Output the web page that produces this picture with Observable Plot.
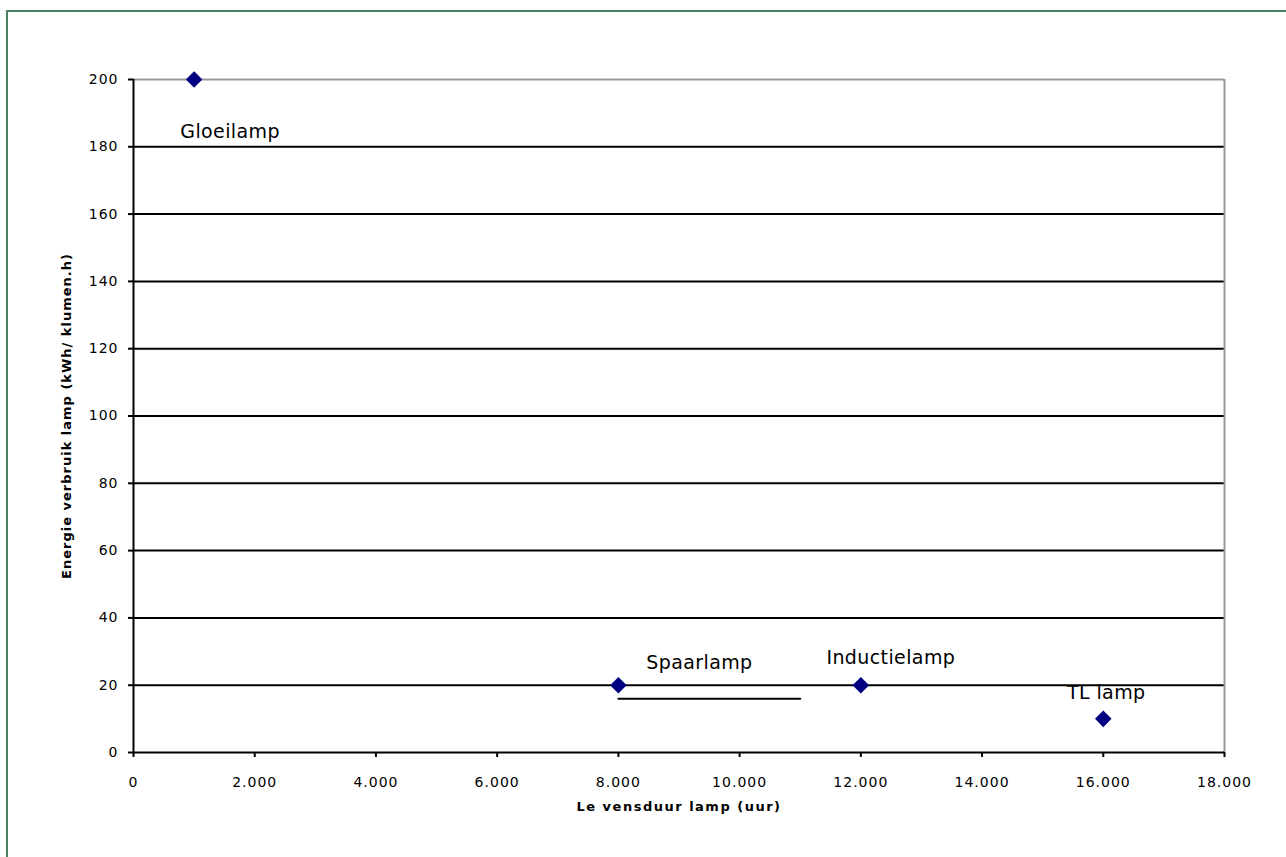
<!DOCTYPE html>
<html>
<head>
<meta charset="utf-8">
<script src="https://cdn.jsdelivr.net/npm/d3@7"></script>
<script src="https://cdn.jsdelivr.net/npm/@observablehq/plot@0.6"></script>
<style>
  html, body { margin: 0; padding: 0; background: #fff; }
  #wrap { position: relative; width: 1286px; height: 857px; overflow: hidden; }
  #frame { position: absolute; left: 6px; top: 10px; right: -10px; bottom: -10px;
           border-left: 2px solid #4b8063; border-top: 2px solid #4b8063; pointer-events: none; }
  svg { display: block; }
</style>
</head>
<body>
<div id="wrap"><div id="frame"></div></div>
<script>
// Data
const lamps = ["Gloeilamp", "Spaarlamp", "Inductielamp", "TL lamp"];
const lifetimeHours = [1000, 8000, 12000, 16000];
const energyUse = [200, 20, 20, 10];
const yTicks = [0, 20, 40, 60, 80, 100, 120, 140, 160, 180, 200];
const xTicks = [0, 2000, 4000, 6000, 8000, 10000, 12000, 14000, 16000, 18000];
const underlineX = [8000, 11000];
const underlineY = [16, 16];
const xTitle = "Le vensduur lamp (uur)";
const yTitle = "Energie verbruik lamp (kWh/ klumen.h)";

const points = lamps.map((name, i) => ({name, x: lifetimeHours[i], y: energyUse[i]}));
const underline = underlineX.map((x, i) => ({x, y: underlineY[i]}));

// label offsets (styling, in pixels)
const labelOffset = {
  "Gloeilamp": [36, 52],
  "Spaarlamp": [81, -22],
  "Inductielamp": [30, -27],
  "TL lamp": [3, -26]
};

const nl = d3.formatLocale({decimal: ",", thousands: ".", grouping: [3], currency: ["€", ""]});
const fmt = nl.format(",");

const font = "DejaVu Sans, sans-serif";

const marks = [
  Plot.ruleY(yTicks.filter(v => v > 0 && v < 200), {stroke: "#000", strokeWidth: 2}),
  Plot.ruleY([200], {stroke: "#999", strokeWidth: 2}),
  Plot.ruleX([18000], {stroke: "#999", strokeWidth: 2}),
  Plot.axisY({ticks: yTicks, tickSize: 5, tickPadding: 10, tickFormat: fmt, label: null,
    stroke: "#000", strokeWidth: 2, fontSize: 14, fill: "#000"}),
  Plot.axisX({ticks: xTicks, tickSize: 5, tickPadding: 20, tickFormat: fmt, label: null,
    stroke: "#000", strokeWidth: 2, fontSize: 14, fill: "#000"}),
  Plot.ruleX([0], {stroke: "#000", strokeWidth: 2}),
  Plot.ruleY([0], {stroke: "#000", strokeWidth: 2}),
  Plot.line(underline, {x: "x", y: "y", stroke: "#000", strokeWidth: 2}),
  Plot.dot(points, {x: "x", y: "y", symbol: "diamond2", r: 6.5, fill: "#000080", stroke: "#000080"}),
  ...points.map(p => Plot.text([p], {x: "x", y: "y", text: "name",
    dx: labelOffset[p.name][0], dy: labelOffset[p.name][1],
    fontSize: 19, fill: "#000", fontFamily: font, className: "datalabel"})),
  Plot.text([xTitle], {frameAnchor: "bottom", textAnchor: "middle", dy: 58, fontSize: 13, fontWeight: "bold",
    fill: "#000", fontFamily: font, className: "xtitle"}),
  Plot.text([yTitle], {frameAnchor: "left", textAnchor: "middle", dx: -67, rotate: -90, fontSize: 13,
    fontWeight: "bold", fill: "#000", fontFamily: font, className: "ytitle"})
];

const chart = Plot.plot({
  width: 1286,
  height: 857,
  marginLeft: 133,
  marginRight: 62,
  marginTop: 79,
  marginBottom: 105,
  style: {fontFamily: font, background: "transparent"},
  x: {domain: [0, 18000]},
  y: {domain: [0, 200]},
  marks
});

d3.select(chart).selectAll('g[aria-label="y-axis tick label"] text, g[aria-label="x-axis tick label"] text')
  .attr("letter-spacing", "1px");
d3.select(chart).selectAll('.datalabel text').attr("letter-spacing", "0.4px");
d3.select(chart).selectAll('.xtitle text').attr("letter-spacing", "1.5px");
d3.select(chart).selectAll('.ytitle text').attr("letter-spacing", "1px");

document.getElementById("wrap").prepend(chart);
</script>
</body>
</html>
